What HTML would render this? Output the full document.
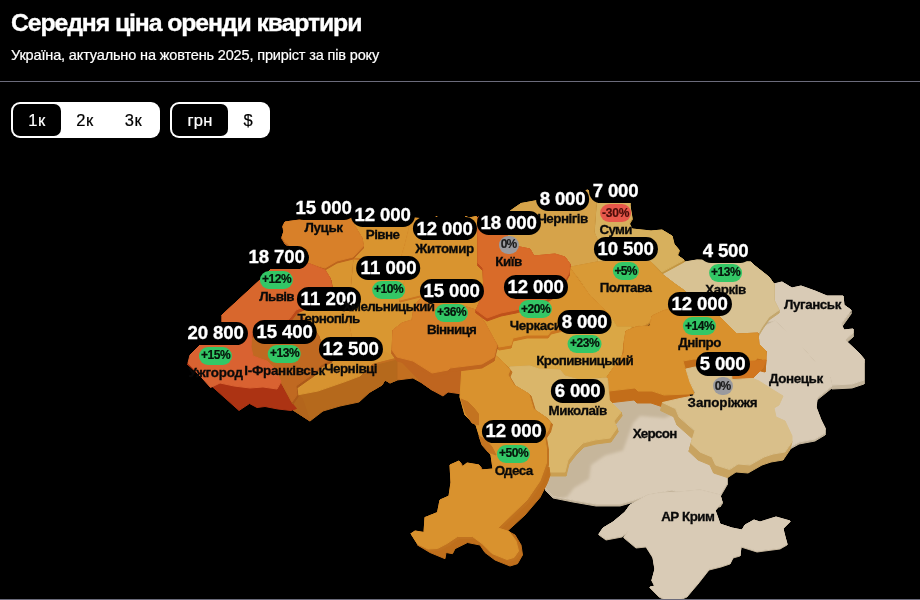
<!DOCTYPE html>
<html lang="uk">
<head>
<meta charset="utf-8">
<title>Середня ціна оренди квартири</title>
<style>
html,body{margin:0;padding:0;background:#000;}
body{width:920px;height:600px;overflow:hidden;position:relative;font-family:"Liberation Sans",sans-serif;color:#fff;}
h1{position:absolute;left:11px;top:8.5px;margin:0;font-size:24.8px;line-height:28px;font-weight:700;white-space:nowrap;letter-spacing:-1.102px;-webkit-text-stroke:0.35px #fff;}
.sub{position:absolute;left:11px;top:46px;margin:0;font-size:14.5px;line-height:18px;white-space:nowrap;-webkit-text-stroke-width:0.2px;letter-spacing:-0.148px;}
.hr{position:absolute;left:0;top:81px;width:920px;height:1px;background:#6b6b7b;}
.hr2{position:absolute;left:0;top:599px;width:920px;height:1px;background:#6b6b7b;}
.tg{position:absolute;top:102px;height:36px;background:#fff;border-radius:9px;color:#000;font-size:16.5px;-webkit-text-stroke-width:0.2px;}
.tg span{position:absolute;top:2px;height:32px;line-height:32px;text-align:center;border-radius:7px;}
.tg .on{background:#000;color:#fff;}
#map{position:absolute;left:0;top:0;width:920px;height:600px;}
.lb{position:absolute;display:flex;flex-direction:column;align-items:center;transform:translateX(-50%);white-space:nowrap;}
.pr{display:block;box-sizing:border-box;background:#000;color:#fff;font-weight:700;font-size:18.6px;line-height:22.5px;height:23.5px;padding:0.65px 4px 0;border-radius:11.75px;-webkit-text-stroke:0.3px #fff;}
.bd{display:block;box-sizing:border-box;font-style:normal;font-weight:700;font-size:12px;line-height:16px;height:18px;padding:0.55px 2px 0;border-radius:9px;margin-top:1.4px;color:#06120a;-webkit-text-stroke:0.2px #06120a;}
.pos{background:#33c766;}
.neg{background:#e8574a;color:#4a0d08;-webkit-text-stroke-color:#4a0d08;}
.zero{background:#9a9a9e;color:#1c1c1c;-webkit-text-stroke-color:#1c1c1c;}
.ct{display:block;font-weight:700;font-size:13.4px;line-height:15px;color:#0a0a0a;margin-top:0.1px;-webkit-text-stroke:0.3px #0a0a0a;}
.pr+.ct{margin-top:0.23px;}
.ct:first-child{margin-top:0.23px;}
</style>
</head>
<body>
<h1>Середня ціна оренди квартири</h1>
<p class="sub">Україна, актуально на жовтень 2025, приріст за пів року</p>
<div class="hr"></div>
<div class="tg" style="left:11px;width:149px"><span class="on" style="left:2px;width:48px;letter-spacing:0.617px">1к</span><span style="left:50px;width:48px;letter-spacing:0.617px">2к</span><span style="left:98px;width:49px;letter-spacing:0.617px">3к</span></div>
<div class="tg" style="left:170px;width:100px"><span class="on" style="left:2px;width:56px;letter-spacing:0.208px">грн</span><span style="left:58px;width:40px">$</span></div>
<svg id="map" width="920" height="600" viewBox="0 0 920 600">
<defs><filter id="bl" x="-20%" y="-20%" width="140%" height="140%"><feGaussianBlur stdDeviation="1.6"/></filter><clipPath id="khc"><polygon points="547,473 544,482 546,489 553,496 573,500 596,504 620,504 634,500 648,495 672,490 700,500 720,505 722,502 720,495 727,483 727,475 722,470 720,460 700,450 690,430 670,405 660,395 610,395 615,420 610,438 585,444 570,455 565,472"/></clipPath></defs>
<g stroke-linejoin="round" stroke-width="1">
<path d="M774,284L782,282L782,286L774,288ZM782,282L792,288L792,292L782,286ZM792,288L801,286L801,290L792,292ZM801,286L815,291L815,295L801,290ZM815,291L827,296L827,300L815,295ZM827,296L843,296L843,300L827,300ZM843,296L844,305L844,309L843,300ZM844,305L851,310L851,314L844,309ZM851,310L841,324L841,328L851,314ZM841,324L844,330L844,334L841,328ZM844,330L853,329L853,333L844,334ZM853,329L853,333L853,337L853,333ZM853,333L845,340L845,344L853,337ZM845,340L859,353L859,357L845,344ZM859,353L864,359L864,363L859,357ZM864,359L864,380L864,384L864,363ZM864,380L852,384L852,388L864,384ZM852,384L832,385L832,389L852,388ZM832,385L830,377L830,381L832,389ZM830,377L815,362L815,366L830,381ZM815,362L802,347L802,351L815,366ZM802,347L787,332L787,336L802,351ZM787,332L775,321L775,325L787,336ZM775,321L758,322L758,326L775,325ZM758,322L779,310L779,314L758,326ZM779,310L774,300L774,304L779,314ZM774,300L774,284L774,288L774,304Z" fill="#C4B59C" stroke="#C4B59C"/>
<polygon points="774,284 782,282 792,288 801,286 815,291 827,296 843,296 844,305 851,310 841,324 844,330 853,329 853,333 845,340 859,353 864,359 864,380 852,384 832,385 830,377 815,362 802,347 787,332 775,321 758,322 779,310 774,300" fill="#D9CBB6" stroke="#D9CBB6"/>
<path d="M757,330L775,321L775,323L757,332ZM775,321L787,332L787,334L775,323ZM787,332L802,347L802,349L787,334ZM802,347L815,362L815,364L802,349ZM815,362L830,377L830,379L815,364ZM830,377L832,386L832,388L830,379ZM832,386L817,398L817,400L832,388ZM817,398L816,407L816,409L817,400ZM816,407L821,420L821,422L816,409ZM821,420L825,428L825,430L821,422ZM825,428L825,433L825,435L825,430ZM825,433L815,439L815,441L825,435ZM815,439L799,442L799,444L815,441ZM799,442L790,447L790,449L799,444ZM790,447L790,437L790,439L790,449ZM790,437L785,421L785,423L790,439ZM785,421L776,417L776,419L785,423ZM776,417L774,408L774,410L776,419ZM774,408L779,405L779,407L774,410ZM779,405L783,396L783,398L779,407ZM783,396L745,382L745,384L783,398ZM745,382L750,363L750,365L745,384ZM750,363L767,352L767,354L750,365ZM767,352L760,345L760,347L767,354ZM760,345L758,333L758,335L760,347ZM758,333L757,330L757,332L758,335Z" fill="#C4B59C" stroke="#C4B59C"/>
<polygon points="757,330 775,321 787,332 802,347 815,362 830,377 832,386 817,398 816,407 821,420 825,428 825,433 815,439 799,442 790,447 790,437 785,421 776,417 774,408 779,405 783,396 745,382 750,363 767,352 760,345 758,333" fill="#D9CBB6" stroke="#D9CBB6"/>
<path d="M547,473L544,482L544,484L547,475ZM544,482L546,489L546,491L544,484ZM546,489L553,496L553,498L546,491ZM553,496L573,500L573,502L553,498ZM573,500L596,504L596,506L573,502ZM596,504L620,504L620,506L596,506ZM620,504L634,500L634,502L620,506ZM634,500L648,495L648,497L634,502ZM648,495L672,490L672,492L648,497ZM672,490L700,500L700,502L672,492ZM700,500L720,505L720,507L700,502ZM720,505L722,502L722,504L720,507ZM722,502L720,495L720,497L722,504ZM720,495L727,483L727,485L720,497ZM727,483L727,475L727,477L727,485ZM727,475L722,470L722,472L727,477ZM722,470L720,460L720,462L722,472ZM720,460L700,450L700,452L720,462ZM700,450L690,430L690,432L700,452ZM690,430L670,405L670,407L690,432ZM670,405L660,395L660,397L670,407ZM660,395L610,395L610,397L660,397ZM610,395L615,420L615,422L610,397ZM615,420L610,438L610,440L615,422ZM610,438L585,444L585,446L610,440ZM585,444L570,455L570,457L585,446ZM570,455L565,472L565,474L570,457ZM565,472L547,473L547,475L565,474Z" fill="#C4B59C" stroke="#C4B59C"/>
<polygon points="547,473 544,482 546,489 553,496 573,500 596,504 620,504 634,500 648,495 672,490 700,500 720,505 722,502 720,495 727,483 727,475 722,470 720,460 700,450 690,430 670,405 660,395 610,395 615,420 610,438 585,444 570,455 565,472" fill="#D9CBB6" stroke="#D9CBB6"/>
<path d="M648,495L630,505L630,506L648,496ZM630,505L625,512L625,513L630,506ZM625,512L613,522L613,523L625,513ZM613,522L603,528L603,529L613,523ZM603,528L599,534L599,535L603,529ZM599,534L606,539L606,540L599,535ZM606,539L622,536L622,537L606,540ZM622,536L629,531L629,532L622,537ZM629,531L624,537L624,538L629,532ZM624,537L636,547L636,548L624,538ZM636,547L646,546L646,547L636,548ZM646,546L653,557L653,558L646,547ZM653,557L655,569L655,570L653,558ZM655,569L652,580L652,581L655,570ZM652,580L655,586L655,587L652,581ZM655,586L650,587L650,588L655,587ZM650,587L654,591L654,592L650,588ZM654,591L659,596L659,597L654,592ZM659,596L664,598.5L664,599.5L659,597ZM664,598.5L681,598.5L681,599.5L664,599.5ZM681,598.5L687,596L687,597L681,599.5ZM687,596L692,590L692,591L687,597ZM692,590L698,583L698,584L692,591ZM698,583L709,569L709,570L698,584ZM709,569L721,566L721,567L709,570ZM721,566L730,563L730,564L721,567ZM730,563L733,557L733,558L730,564ZM733,557L740,555L740,556L733,558ZM740,555L741,546L741,547L740,556ZM741,546L757,551L757,552L741,547ZM757,551L780,548L780,549L757,552ZM780,548L787,544L787,545L780,549ZM787,544L784,533L784,534L787,545ZM784,533L783,528L783,529L784,534ZM783,528L790,521L790,522L783,529ZM790,521L776,517L776,518L790,522ZM776,517L760,522L760,523L776,518ZM760,522L754,520L754,521L760,523ZM754,520L745,525L745,526L754,521ZM745,525L742,530L742,531L745,526ZM742,530L732,528L732,529L742,531ZM732,528L720,524L720,525L732,529ZM720,524L715,510L715,511L720,525ZM715,510L722,502L722,503L715,511ZM722,502L720,495L720,496L722,503ZM720,495L700,490L700,491L720,496ZM700,490L680,492L680,493L700,491ZM680,492L660,493L660,494L680,493ZM660,493L648,495L648,496L660,494Z" fill="#C4B59C" stroke="#C4B59C"/>
<polygon points="648,495 630,505 625,512 613,522 603,528 599,534 606,539 622,536 629,531 624,537 636,547 646,546 653,557 655,569 652,580 655,586 650,587 654,591 659,596 664,598.5 681,598.5 687,596 692,590 698,583 709,569 721,566 730,563 733,557 740,555 741,546 757,551 780,548 787,544 784,533 783,528 790,521 776,517 760,522 754,520 745,525 742,530 732,528 720,524 715,510 722,502 720,495 700,490 680,492 660,493" fill="#D9CBB6" stroke="#D9CBB6"/>
<g clip-path="url(#khc)"><polygon points="540,470 540,485 546,492 553,500 567,497 574,488 589,479 591,465 605,455.5 623,450.5 628,437 633,423 640,416 665,418 676,413 680,400 610,390 615,420 610,438 585,440 570,455 565,470" fill="#C6B69B" stroke="none" filter="url(#bl)"/></g>
<path d="M661,273.5L685,262L685,265L661,276.5ZM685,262L697,260L697,263L685,265ZM697,260L751,262L751,265L697,263ZM751,262L755,266L755,269L751,265ZM755,266L769,277L769,280L755,269ZM769,277L774,284L774,287L769,280ZM774,284L774,300L774,303L774,287ZM774,300L779,310L779,313L774,303ZM779,310L769,317L769,320L779,313ZM769,317L762,327L762,330L769,320ZM762,327L758,334L758,337L762,330ZM758,334L737,334L737,337L758,337ZM737,334L730,327L730,330L737,337ZM730,327L720,317L720,320L730,330ZM720,317L700,300L700,303L720,320ZM700,300L685,291L685,294L700,303ZM685,291L675,284L675,287L685,294ZM675,284L661,273.5L661,276.5L675,287Z" fill="#C4A76D" stroke="#C4A76D"/>
<polygon points="661,273.5 685,262 697,260 751,262 755,266 769,277 774,284 774,300 779,310 769,317 762,327 758,334 737,334 730,327 720,317 700,300 685,291 675,284" fill="#D8C293" stroke="#D8C293"/>
<path d="M596,205L600,195L600,197L596,207ZM600,195L630,200L630,202L600,197ZM630,200L630,206L630,208L630,202ZM630,206L632,218L632,220L630,208ZM632,218L629,223L629,225L632,220ZM629,223L632,229L632,231L629,225ZM632,229L651,231L651,233L632,231ZM651,231L662,230L662,232L651,233ZM662,230L672,236L672,238L662,232ZM672,236L674,244L674,246L672,238ZM674,244L679,250L679,252L674,246ZM679,250L677,255L677,257L679,252ZM677,255L684,260L684,262L677,257ZM684,260L662,272L662,274L684,262ZM662,272L651,262L651,264L662,274ZM651,262L625,262L625,264L651,264ZM625,262L597,262L597,264L625,264ZM597,262L597,239L597,241L597,264ZM597,239L594,232L594,234L597,241ZM594,232L596,205L596,207L594,234Z" fill="#C39641" stroke="#C39641"/>
<polygon points="596,205 600,195 630,200 630,206 632,218 629,223 632,229 651,231 662,230 672,236 674,244 679,250 677,255 684,260 662,272 651,262 625,262 597,262 597,239 594,232" fill="#D7B05D" stroke="#D7B05D"/>
<path d="M513,209L521,203.5L521,205.5L513,211ZM521,203.5L532,201.5L532,203.5L521,205.5ZM532,201.5L545,199L545,201L532,203.5ZM545,199L560,197L560,199L545,201ZM560,197L588,190L588,192L560,199ZM588,190L596,200L596,202L588,192ZM596,200L596,205L596,207L596,202ZM596,205L594,232L594,234L596,207ZM594,232L597,239L597,241L594,234ZM597,239L597,262L597,264L597,241ZM597,262L571,267L571,269L597,264ZM571,267L570,264L570,266L571,269ZM570,264L565,257L565,259L570,266ZM565,257L555,254L555,256L565,259ZM555,254L534,256L534,258L555,256ZM534,256L530,249L530,251L534,258ZM530,249L515,246L515,248L530,251ZM515,246L500,240L500,242L515,248ZM500,240L490,225L490,227L500,242ZM490,225L505,215L505,217L490,227ZM505,215L513,209L513,211L505,217Z" fill="#C18B37" stroke="#C18B37"/>
<polygon points="513,209 521,203.5 532,201.5 545,199 560,197 588,190 596,200 596,205 594,232 597,239 597,262 571,267 570,264 565,257 555,254 534,256 530,249 515,246 500,240 490,225 505,215" fill="#D6A34A" stroke="#D6A34A"/>
<path d="M571,267L597,262L597,264L571,269ZM597,262L651,262L651,264L597,264ZM651,262L662,274L662,276L651,264ZM662,274L675,284L675,286L662,276ZM675,284L685,291L685,293L675,286ZM685,291L690,300L690,302L685,293ZM690,300L680,310L680,312L690,302ZM680,310L660,315L660,317L680,312ZM660,315L645,325L645,327L660,317ZM645,325L631,327L631,329L645,327ZM631,327L617,327L617,329L631,329ZM617,327L610,316L610,318L617,329ZM610,316L600,305L600,307L610,318ZM600,305L590,296L590,298L600,307ZM590,296L580,280L580,282L590,298ZM580,280L570,268L570,270L580,282ZM570,268L571,267L571,269L570,270Z" fill="#C38129" stroke="#C38129"/>
<polygon points="571,267 597,262 651,262 662,274 675,284 685,291 690,300 680,310 660,315 645,325 631,327 617,327 610,316 600,305 590,296 580,280 570,268" fill="#D99A36" stroke="#D99A36"/>
<path d="M499,347L511,345L511,347L499,349ZM511,345L513,338L513,340L511,347ZM513,338L527,335L527,337L513,340ZM527,335L548,335L548,337L527,337ZM548,335L551,331L551,333L548,337ZM551,331L575,325L575,327L551,333ZM575,325L590,318L590,320L575,327ZM590,318L610,316L610,318L590,320ZM610,316L617,327L617,329L610,318ZM617,327L631,327L631,329L617,329ZM631,327L631,332L631,334L631,329ZM631,332L624,343L624,345L631,334ZM624,343L624,353L624,355L624,345ZM624,353L614,367L614,369L624,355ZM614,367L607,377L607,379L614,369ZM607,377L580,380L580,382L607,379ZM580,380L565,376L565,378L580,382ZM565,376L560,370L560,372L565,378ZM560,370L539,369L539,371L560,372ZM539,369L530,366L530,368L539,371ZM530,366L510,367L510,369L530,368ZM510,367L501,364L501,366L510,369ZM501,364L494,357L494,359L501,366ZM494,357L499,347L499,349L494,359Z" fill="#C38D31" stroke="#C38D31"/>
<polygon points="499,347 511,345 513,338 527,335 548,335 551,331 575,325 590,318 610,316 617,327 631,327 631,332 624,343 624,353 614,367 607,377 580,380 565,376 560,370 539,369 530,366 510,367 501,364 494,357" fill="#DAA745" stroke="#DAA745"/>
<path d="M626,331L636,327L635,339L625,343ZM636,327L650,326L649,338L635,339ZM650,326L652,316L651,328L649,338ZM652,316L664,310.5L663,322.5L651,328ZM664,310.5L680,308L679,320L663,322.5ZM680,308L690,300L689,312L679,320ZM690,300L720,317L719,329L689,312ZM720,317L730,327L729,339L719,329ZM730,327L737,334L736,346L729,339ZM737,334L758,333L757,345L736,346ZM758,333L759,344L758,356L757,345ZM759,344L766,351L765,363L758,356ZM766,351L766,360L765,372L765,363ZM766,360L757.5,358L756.5,370L765,372ZM757.5,358L754.5,361L753.5,373L756.5,370ZM754.5,361L733,362L732,374L753.5,373ZM733,362L694,359L693,371L732,374ZM694,359L683,361L682,373L693,371ZM683,361L685,368L684,380L682,373ZM685,368L690,382L689,394L684,380ZM690,382L694,393.7L693,405.7L689,394ZM694,393.7L688,394L687,406L693,405.7ZM688,394L664,395L663,407L687,406ZM664,395L652,391L651,403L663,407ZM652,391L638,391L637,403L651,403ZM638,391L635,388L634,400L637,403ZM635,388L609,391L608,403L634,400ZM609,391L607,377L606,389L608,403ZM607,377L614,367L613,379L606,389ZM614,367L624,353L623,365L613,379ZM624,353L624,343L623,355L623,365ZM624,343L626,331L625,343L623,355Z" fill="#C36E1A" stroke="#C36E1A"/>
<polygon points="626,331 636,327 650,326 652,316 664,310.5 680,308 690,300 720,317 730,327 737,334 758,333 759,344 766,351 766,360 757.5,358 754.5,361 733,362 694,359 683,361 685,368 690,382 694,393.7 688,394 664,395 652,391 638,391 635,388 609,391 607,377 614,367 624,353 624,343" fill="#D9912D" stroke="#D9912D"/>
<polygon points="733,362 754.5,361 766,360 763,368 753,378 732,379" fill="#D1761F" stroke="#D1761F"/>
<path d="M662.5,402.5L675.6,408.7L673.6,416.7L660.5,410.5ZM675.6,408.7L679,417L677,425L673.6,416.7ZM679,417L694.8,431L692.8,439L677,425ZM694.8,431L691,443.5L689,451.5L692.8,439ZM691,443.5L700,452L698,460L689,451.5ZM700,452L712,457L710,465L698,460ZM712,457L715.6,465L713.6,473L710,465ZM715.6,465L729.6,469.6L727.6,477.6L713.6,473ZM729.6,469.6L738,464L736,472L727.6,477.6ZM738,464L750,465L748,473L736,472ZM750,465L764,457L762,465L748,473ZM764,457L773,454L771,462L762,465ZM773,454L785,452L783,460L771,462ZM785,452L792,441.7L790,449.7L783,460Z" fill="#C8A361" stroke="#C8A361"/>
<polygon points="662.5,402.5 675.6,408.7 679,417 694.8,431 691,443.5 700,452 712,457 715.6,465 729.6,469.6 738,464 750,465 764,457 773,454 785,452 792,441.7 792,436 785,421 776,417 774,408 779,405 783,396 770,388 759,381 753,378.5 732,379.5 731,367 695,367 686,369 690,382 695,393 693,396 680,398.5" fill="#D9BF8A" stroke="#D9BF8A"/>
<path d="M510,367L530,366L531,370L511,371ZM530,366L539,369L540,373L531,370ZM539,369L560,370L561,374L540,373ZM560,370L565,376L566,380L561,374ZM565,376L580,380L581,384L566,380ZM580,380L607,378L608,382L581,384ZM607,378L609,400L610,404L608,382ZM609,400L621,412L622,416L610,404ZM621,412L614,421L615,425L622,416ZM614,421L617,428L618,432L615,425ZM617,428L610,438L611,442L618,432ZM610,438L595,440L596,444L611,442ZM595,440L583,443L584,447L596,444ZM583,443L575,451L576,455L584,447ZM575,451L568,460L569,464L576,455ZM568,460L565,472L566,476L569,464ZM565,472L547,472L548,476L566,476ZM547,472L549,450L550,454L548,476ZM549,450L545,439L546,443L550,454ZM545,439L549,430L550,434L546,443ZM549,430L552,423L553,427L550,434ZM552,423L547,418L548,422L553,427ZM547,418L535,410L536,414L548,422ZM535,410L531,396L532,400L536,414ZM531,396L514,385L515,389L532,400ZM514,385L508,375L509,379L515,389ZM508,375L510,367L511,371L509,379Z" fill="#CA9F52" stroke="#CA9F52"/>
<polygon points="510,367 530,366 539,369 560,370 565,376 580,380 607,378 609,400 621,412 614,421 617,428 610,438 595,440 583,443 575,451 568,460 565,472 547,472 549,450 545,439 549,430 552,423 547,418 535,410 531,396 514,385 508,375" fill="#DAB66A" stroke="#DAB66A"/>
<polygon points="373,363 397,357 440,392 432,390 422,383 413,378 397,380 390,383 385,380 382,385 370,392" fill="#C36F20" stroke="#C36F20"/>
<polygon points="397,357 413,361 432,373 448,370 462,368 462,394 448,392 443,396 432,390 422,383" fill="#BF651F" stroke="#BF651F"/>
<polygon points="297,395 318,391 344,382 360,376 373,363 397,357 397,380 390,383 385,380 382,385 370,392 359,402 340,406 323,411 310,421 293,410" fill="#B5691C" stroke="#B5691C"/>
<polygon points="281,382 289,400 293,410 310,421 302,398 297,394 292,402" fill="#B3651C" stroke="#B3651C"/>
<polygon points="187,364 192,363 208,380 220,383 234,386 250,388 263,387 277,389 281,382 290,401 296.5,408.5 291,410.5 278,409 265,406.5 257,407.5 249.5,403.5 239,410.5" fill="#AC3313" stroke="#AC3313"/>
<path d="M349,255L365,256L365,258L349,257ZM365,256L400,262L400,264L365,258ZM400,262L408,280L408,282L400,264ZM408,280L422,296L422,298L408,282ZM422,296L418,310L418,312L422,298ZM418,310L415,323L415,325L418,312ZM415,323L403,327L403,329L415,325ZM403,327L395,333L395,335L403,329ZM395,333L392,350L392,352L395,335ZM392,350L397,357L397,359L392,352ZM397,357L385,360L385,362L397,359ZM385,360L373,363L373,365L385,362ZM373,363L360,355L360,357L373,365ZM360,355L352,340L352,342L360,357ZM352,340L348,320L348,322L352,342ZM348,320L350,290L350,292L348,322ZM350,290L349,255L349,257L350,292Z" fill="#C36F20" stroke="#C36F20"/>
<polygon points="349,255 365,256 400,262 408,280 422,296 418,310 415,323 403,327 395,333 392,350 397,357 385,360 373,363 360,355 352,340 348,320 350,290" fill="#D99731" stroke="#D99731"/>
<path d="M325,268L337,261L337,263L325,270ZM337,261L353,257L353,259L337,263ZM353,257L350,290L350,292L353,259ZM350,290L348,320L348,322L350,292ZM348,320L352,340L352,342L348,322ZM352,340L345,352L345,354L352,342ZM345,352L331,360L331,362L345,354ZM331,360L322,345L322,347L331,362ZM322,345L318,335L318,337L322,347ZM318,335L312,326L312,328L318,337ZM312,326L303,318L303,320L312,328ZM303,318L296,311L296,313L303,320ZM296,311L308,305L308,307L296,313ZM308,305L322,298L322,300L308,307ZM322,298L332,287L332,289L322,300ZM332,287L330,278L330,280L332,289ZM330,278L325,268L325,270L330,280Z" fill="#C37320" stroke="#C37320"/>
<polygon points="325,268 337,261 353,257 350,290 348,320 352,340 345,352 331,360 322,345 318,335 312,326 303,318 296,311 308,305 322,298 332,287 330,278" fill="#D99530" stroke="#D99530"/>
<path d="M350,218L372,218L372,220L350,220ZM372,218L400,217L400,219L372,220ZM400,217L410,225L410,227L400,219ZM410,225L405,245L405,247L410,227ZM405,245L400,262L400,264L405,247ZM400,262L365,258L365,260L400,264ZM365,258L353,257L353,259L365,260ZM353,257L363.5,246L363.5,248L353,259ZM363.5,246L362,238L362,240L363.5,248ZM362,238L350,218L350,220L362,240Z" fill="#CB7620" stroke="#CB7620"/>
<polygon points="350,218 372,218 400,217 410,225 405,245 400,262 365,258 353,257 363.5,246 362,238" fill="#D9942F" stroke="#D9942F"/>
<path d="M400,217L420,218.5L420,220.5L400,219ZM420,218.5L434,218.5L434,220.5L420,220.5ZM434,218.5L436.5,216.5L436.5,218.5L434,220.5ZM436.5,216.5L439,218.5L439,220.5L436.5,218.5ZM439,218.5L463,218.5L463,220.5L439,220.5ZM463,218.5L466,216.5L466,218.5L463,220.5ZM466,216.5L469,218L469,220L466,218.5ZM469,218L476,216.5L476,218.5L469,220ZM476,216.5L478,218L478,220L476,218.5ZM478,218L478,263L478,265L478,220ZM478,263L483,268L483,270L478,265ZM483,268L484,292L484,294L483,270ZM484,292L476,310L476,312L484,294ZM476,310L460,305L460,307L476,312ZM460,305L440,300L440,302L460,307ZM440,300L420,295L420,297L440,302ZM420,295L400,300L400,302L420,297ZM400,300L405,280L405,282L400,302ZM405,280L400,262L400,264L405,282ZM400,262L405,245L405,247L400,264ZM405,245L410,225L410,227L405,247ZM410,225L400,217L400,219L410,227Z" fill="#CB7620" stroke="#CB7620"/>
<polygon points="400,217 420,218.5 434,218.5 436.5,216.5 439,218.5 463,218.5 466,216.5 469,218 476,216.5 478,218 478,263 483,268 484,292 476,310 460,305 440,300 420,295 400,300 405,280 400,262 405,245 410,225" fill="#D9942F" stroke="#D9942F"/>
<path d="M480,312L501,311L501,314L480,315ZM501,311L516,310L516,313L501,314ZM516,310L540,305L540,308L516,313ZM540,305L570,268L570,271L540,308ZM570,268L590,296L590,299L570,271ZM590,296L600,305L600,308L590,299ZM600,305L610,316L610,319L600,308ZM610,316L590,318L590,321L610,319ZM590,318L575,325L575,328L590,321ZM575,325L551,331L551,334L575,328ZM551,331L548,335L548,338L551,334ZM548,335L527,335L527,338L548,338ZM527,335L513,338L513,341L527,338ZM513,338L511,345L511,348L513,341ZM511,345L499,347L499,350L511,348ZM499,347L484,324L484,327L499,350ZM484,324L480,312L480,315L484,327Z" fill="#CB7620" stroke="#CB7620"/>
<polygon points="480,312 501,311 516,310 540,305 570,268 590,296 600,305 610,316 590,318 575,325 551,331 548,335 527,335 513,338 511,345 499,347 484,324" fill="#D9942F" stroke="#D9942F"/>
<polygon points="549,467 550,475 547.5,482.5 540,497.5 525,515 507.5,531 515,535 521,545 522.5,555 517.5,563.7 510,566 495,560 485,552.5 480,545 467.5,542.5 455,548.7 452.5,553.7 446,552.5 445,558.7 430,552.5 417.5,545 425,540 460,530 500,520 540,470" fill="#BF6F1C" stroke="#BF6F1C"/>
<path d="M462,366L480,362L482,364L464,368ZM480,362L495,355L497,357L482,364ZM495,355L503,362L505,364L497,357ZM503,362L510,370L512,372L505,364ZM510,370L508,375L510,377L512,372ZM508,375L514,385L516,387L510,377ZM514,385L529,394L531,396L516,387ZM529,394L533.5,409L535.5,411L531,396ZM533.5,409L546,417.5L548,419.5L535.5,411ZM546,417.5L550.5,422.5L552.5,424.5L548,419.5ZM550.5,422.5L548.5,430L550.5,432L552.5,424.5ZM548.5,430L544.5,436L546.5,438L550.5,432ZM544.5,436L546.5,448L548.5,450L546.5,438ZM546.5,448L546.5,463L548.5,465L548.5,450ZM546.5,463L540,481L542,483L548.5,465ZM540,481L527,500L529,502L542,483ZM527,500L498,528L500,530L529,502ZM498,528L509,531.5L511,533.5L500,530ZM509,531.5L516,541L518,543L511,533.5ZM516,541L518.5,551L520.5,553L518,543ZM518.5,551L514,557.5L516,559.5L520.5,553ZM514,557.5L507,559.5L509,561.5L516,559.5ZM507,559.5L492,553.5L494,555.5L509,561.5ZM492,553.5L482,543.5L484,545.5L494,555.5ZM482,543.5L472.5,536.5L474.5,538.5L484,545.5ZM472.5,536.5L457.5,536.5L459.5,538.5L474.5,538.5ZM457.5,536.5L447,543.5L449,545.5L459.5,538.5ZM447,543.5L437.5,548.5L439.5,550.5L449,545.5ZM437.5,548.5L428,549L430,551L439.5,550.5ZM428,549L417.5,544L419.5,546L430,551ZM417.5,544L411,533.7L413,535.7L419.5,546ZM411,533.7L415,531L417,533L413,535.7ZM415,531L424,532.5L426,534.5L417,533ZM424,532.5L425,517.5L427,519.5L426,534.5ZM425,517.5L437.5,512.5L439.5,514.5L427,519.5ZM437.5,512.5L440,500L442,502L439.5,514.5ZM440,500L449,496L451,498L442,502ZM449,496L451,482.5L453,484.5L451,498ZM451,482.5L450,465L452,467L453,484.5ZM450,465L459,461L461,463L452,467ZM459,461L462,467L464,469L461,463ZM462,467L467,463L469,465L464,469ZM467,463L479,465L481,467L469,465ZM479,465L481,470L483,472L481,467ZM481,470L493,469L495,471L483,472ZM493,469L491,455L493,457L495,471ZM491,455L481,441L483,443L493,457ZM481,441L476,425L478,427L483,443ZM476,425L465,415L467,417L478,427ZM465,415L460,397L462,399L467,417ZM460,397L461,383L463,385L462,399ZM461,383L462,366L464,368L463,385Z" fill="#C17320" stroke="#C17320"/>
<polygon points="462,366 480,362 495,355 503,362 510,370 508,375 514,385 529,394 533.5,409 546,417.5 550.5,422.5 548.5,430 544.5,436 546.5,448 546.5,463 540,481 527,500 498,528 509,531.5 516,541 518.5,551 514,557.5 507,559.5 492,553.5 482,543.5 472.5,536.5 457.5,536.5 447,543.5 437.5,548.5 428,549 417.5,544 411,533.7 415,531 424,532.5 425,517.5 437.5,512.5 440,500 449,496 451,482.5 450,465 459,461 462,467 467,463 479,465 481,470 493,469 491,455 481,441 476,425 465,415 460,397 461,383" fill="#D9922E" stroke="#D9922E"/>
<polygon points="461,399 468,402 474,408 478.5,414 478.5,425 472,423 466,414" fill="#C37320" stroke="#C37320"/>
<polygon points="479,436 486,440 492,447 496,455 488,452 482,445" fill="#C37320" stroke="#C37320"/>
<polygon points="331,360 321,365 313,374 303,381 296,386 297,395 318,391 344,382 360,376 373,363 387,359 394,357 385,352 360,352 340,355" fill="#D79330" stroke="#D79330"/>
<path d="M285,222L292,221L292,223L285,224ZM292,221L300,220L300,222L292,223ZM300,220L350,218L350,220L300,222ZM350,218L362,238L362,240L350,220ZM362,238L363.5,246L363.5,248L362,240ZM363.5,246L353,257L353,259L363.5,248ZM353,257L337,261L337,263L353,259ZM337,261L325,268L325,270L337,263ZM325,268L310,264L310,266L325,270ZM310,264L300,255L300,257L310,266ZM300,255L289,245L289,247L300,257ZM289,245L285,242L285,244L289,247ZM285,242L282,237L282,239L285,244ZM282,237L284,231L284,233L282,239ZM284,231L283,226L283,228L284,233ZM283,226L285,222L285,224L283,228Z" fill="#BD641D" stroke="#BD641D"/>
<polygon points="285,222 292,221 300,220 350,218 362,238 363.5,246 353,257 337,261 325,268 310,264 300,255 289,245 285,242 282,237 284,231 283,226" fill="#D88029" stroke="#D88029"/>
<path d="M393,330L402,323L402,327L393,334ZM402,323L412,320L412,324L402,327ZM412,320L414,307L414,311L412,324ZM414,307L419,300L419,304L414,311ZM419,300L425,296L425,300L419,304ZM425,296L440,300L440,304L425,300ZM440,300L460,305L460,309L440,304ZM460,305L476,310L476,314L460,309ZM476,310L485,323L485,327L476,314ZM485,323L497,345L497,349L485,327ZM497,345L494,357L494,361L497,349ZM494,357L482,364L482,368L494,361ZM482,364L466,366L466,370L482,368ZM466,366L450,368L450,372L466,370ZM450,368L448,370L448,374L450,372ZM448,370L432,373L432,377L448,374ZM432,373L413,361L413,365L432,377ZM413,361L397,357L397,361L413,365ZM397,357L392,350L392,354L397,361ZM392,350L393,330L393,334L392,354Z" fill="#BF651F" stroke="#BF651F"/>
<polygon points="393,330 402,323 412,320 414,307 419,300 425,296 440,300 460,305 476,310 485,323 497,345 494,357 482,364 466,366 450,368 448,370 432,373 413,361 397,357 392,350" fill="#D8822A" stroke="#D8822A"/>
<path d="M296,311L303,318L304,320L297,313ZM303,318L312,326L313,328L304,320ZM312,326L318,335L319,337L313,328ZM318,335L322,345L323,347L319,337ZM322,345L331,360L332,362L323,347ZM331,360L321,365L322,367L332,362ZM321,365L313,374L314,376L322,367ZM313,374L303,381L304,383L314,376ZM303,381L296,386L297,388L304,383ZM296,386L297,395L298,397L297,388ZM297,395L292,402L293,404L298,397ZM292,402L281,382L282,384L293,404ZM281,382L277,371L278,373L282,384ZM277,371L267,361L268,363L278,373ZM267,361L253,356L254,358L268,363ZM253,356L248,342L249,344L254,358ZM248,342L252,334L253,336L249,344ZM252,334L268,330L269,332L253,336ZM268,330L282,325L283,327L269,332ZM282,325L290,318L291,320L283,327ZM290,318L296,311L297,313L291,320Z" fill="#AC5919" stroke="#AC5919"/>
<polygon points="296,311 303,318 312,326 318,335 322,345 331,360 321,365 313,374 303,381 296,386 297,395 292,402 281,382 277,371 267,361 253,356 248,342 252,334 268,330 282,325 290,318" fill="#C06921" stroke="#C06921"/>
<path d="M478,217L490,215L490,218L478,220ZM490,215L500,225L500,228L490,218ZM500,225L515,246L515,249L500,228ZM515,246L530,249L530,252L515,249ZM530,249L534,256L534,259L530,252ZM534,256L555,254L555,257L534,259ZM555,254L565,257L565,260L555,257ZM565,257L570,264L570,267L565,260ZM570,264L569,273L569,276L570,267ZM569,273L563,284L563,287L569,276ZM563,284L554,295L554,298L563,287ZM554,295L545,300L545,303L554,298ZM545,300L530,306L530,309L545,303ZM530,306L516,310L516,313L530,309ZM516,310L501,313L501,316L516,313ZM501,313L487,318L487,321L501,316ZM487,318L476,310L476,313L487,321ZM476,310L484,292L484,295L476,313ZM484,292L483,268L483,271L484,295ZM483,268L478,263L478,266L483,271ZM478,263L478,217L478,220L478,266Z" fill="#BF511B" stroke="#BF511B"/>
<polygon points="478,217 490,215 500,225 515,246 530,249 534,256 555,254 565,257 570,264 569,273 563,284 554,295 545,300 530,306 516,310 501,313 487,318 476,310 484,292 483,268 478,263" fill="#D96B29" stroke="#D96B29"/>
<path d="M260,280L275,265L276,268L261,283ZM275,265L310,264L311,267L276,268ZM310,264L325,270L326,273L311,267ZM325,270L330,278L331,281L326,273ZM330,278L332,287L333,290L331,281ZM332,287L322,298L323,301L333,290ZM322,298L308,305L309,308L323,301ZM308,305L296,310L297,313L309,308ZM296,310L290,318L291,321L297,313ZM290,318L282,325L283,328L291,321ZM282,325L268,330L269,333L283,328ZM268,330L252,334L253,337L269,333ZM252,334L235,336L236,339L253,337ZM235,336L222,322L223,325L236,339ZM222,322L222,315L223,318L223,325ZM222,315L260,280L261,283L223,318Z" fill="#BB4919" stroke="#BB4919"/>
<polygon points="260,280 275,265 310,264 325,270 330,278 332,287 322,298 308,305 296,310 290,318 282,325 268,330 252,334 235,336 222,322 222,315" fill="#D8672D" stroke="#D8672D"/>
<polygon points="188,363 190,355 200,345 222,335 238,334 252,332 251,347 253,356 267,361 277,371 281,382 277,389 263,387 250,388 234,386 220,383 210.5,387.5 199,374.5" fill="#D96231" stroke="#D96231"/>
</g></svg>
<div class="lb" style="left:615.6px;top:179.5px"><b class="pr" style="letter-spacing:-0.147px">7 000</b><i class="bd neg" style="letter-spacing:-0.160px">-30%</i><span class="ct" style="letter-spacing:-0.699px">Суми</span></div>
<div class="lb" style="left:562.6px;top:187px"><b class="pr" style="letter-spacing:-0.147px">8 000</b><span class="ct" style="letter-spacing:-0.496px">Чернігів</span></div>
<div class="lb" style="left:323.6px;top:196px"><b class="pr" style="letter-spacing:-0.128px">15 000</b><span class="ct" style="letter-spacing:-0.375px">Луцьк</span></div>
<div class="lb" style="left:382.6px;top:203px"><b class="pr" style="letter-spacing:-0.128px">12 000</b><span class="ct" style="letter-spacing:-0.575px">Рівне</span></div>
<div class="lb" style="left:508.6px;top:211px"><b class="pr" style="letter-spacing:-0.128px">18 000</b><i class="bd zero" style="letter-spacing:-0.789px">0%</i><span class="ct" style="letter-spacing:-0.449px">Київ</span></div>
<div class="lb" style="left:444.6px;top:216.9px"><b class="pr" style="letter-spacing:-0.128px">12 000</b><span class="ct" style="position:relative;top:0.6px;letter-spacing:-0.339px">Житомир</span></div>
<div class="lb" style="left:625.6px;top:237.2px"><b class="pr" style="letter-spacing:-0.128px">10 500</b><i class="bd pos" style="letter-spacing:-0.688px">+5%</i><span class="ct" style="letter-spacing:-0.558px">Полтава</span></div>
<div class="lb" style="left:725.6px;top:239px"><b class="pr" style="letter-spacing:-0.147px">4 500</b><i class="bd pos" style="letter-spacing:-0.461px">+13%</i><span class="ct" style="letter-spacing:-0.432px">Харків</span></div>
<div class="lb" style="left:276.6px;top:245.7px"><b class="pr" style="letter-spacing:-0.128px">18 700</b><i class="bd pos" style="letter-spacing:-0.461px">+12%</i><span class="ct" style="letter-spacing:-0.647px">Львів</span></div>
<div class="lb" style="left:535.6px;top:275.1px"><b class="pr" style="letter-spacing:-0.128px">12 000</b><i class="bd pos" style="letter-spacing:-0.461px">+20%</i><span class="ct" style="letter-spacing:-0.444px">Черкаси</span></div>
<div class="lb" style="left:451.6px;top:279px"><b class="pr" style="letter-spacing:-0.128px">15 000</b><i class="bd pos" style="letter-spacing:-0.461px">+36%</i><span class="ct" style="letter-spacing:-0.674px">Вінниця</span></div>
<div class="lb" style="left:328.6px;top:287px"><b class="pr" style="letter-spacing:0.042px">11 200</b><span class="ct" style="letter-spacing:-0.668px">Тернопіль</span></div>
<div class="lb" style="left:388.6px;top:256px"><b class="pr" style="letter-spacing:0.042px">11 000</b><i class="bd pos" style="letter-spacing:-0.461px">+10%</i><span class="ct" style="letter-spacing:-0.612px">Хмельницький</span></div>
<div class="lb" style="left:699.6px;top:292.2px"><b class="pr" style="letter-spacing:-0.128px">12 000</b><i class="bd pos" style="letter-spacing:-0.461px">+14%</i><span class="ct" style="letter-spacing:-0.549px">Дніпро</span></div>
<div class="lb" style="left:812.5px;top:297px"><span class="ct" style="letter-spacing:-0.438px">Луганськ</span></div>
<div class="lb" style="left:584.6px;top:310px"><b class="pr" style="letter-spacing:-0.147px">8 000</b><i class="bd pos" style="letter-spacing:-0.461px">+23%</i><span class="ct" style="letter-spacing:-0.624px">Кропивницький</span></div>
<div class="lb" style="left:284.6px;top:320px"><b class="pr" style="letter-spacing:-0.128px">15 400</b><i class="bd pos" style="letter-spacing:-0.461px">+13%</i><span class="ct" style="letter-spacing:-0.285px">І-Франківськ</span></div>
<div class="lb" style="left:215.6px;top:321.7px"><b class="pr" style="letter-spacing:-0.128px">20 800</b><i class="bd pos" style="letter-spacing:-0.461px">+15%</i><span class="ct" style="letter-spacing:-0.214px">Ужгород</span></div>
<div class="lb" style="left:350.6px;top:337.3px"><b class="pr" style="letter-spacing:-0.128px">12 500</b><span class="ct" style="letter-spacing:-0.521px">Чернівці</span></div>
<div class="lb" style="left:722.6px;top:352.2px"><b class="pr" style="letter-spacing:-0.147px">5 000</b><i class="bd zero" style="letter-spacing:-0.789px">0%</i><span class="ct" style="letter-spacing:-0.087px">Запоріжжя</span></div>
<div class="lb" style="left:795.8px;top:371px"><span class="ct" style="letter-spacing:-0.397px">Донецьк</span></div>
<div class="lb" style="left:577.6px;top:379px"><b class="pr" style="letter-spacing:-0.147px">6 000</b><span class="ct" style="letter-spacing:-0.436px">Миколаїв</span></div>
<div class="lb" style="left:513.6px;top:419.7px"><b class="pr" style="letter-spacing:-0.128px">12 000</b><i class="bd pos" style="letter-spacing:-0.461px">+50%</i><span class="ct" style="letter-spacing:-0.600px">Одеса</span></div>
<div class="lb" style="left:654.6px;top:426px"><span class="ct" style="letter-spacing:-0.732px">Херсон</span></div>
<div class="lb" style="left:687.8px;top:509px"><span class="ct" style="letter-spacing:-0.509px">АР Крим</span></div>
<div class="hr2"></div>
</body>
</html>
